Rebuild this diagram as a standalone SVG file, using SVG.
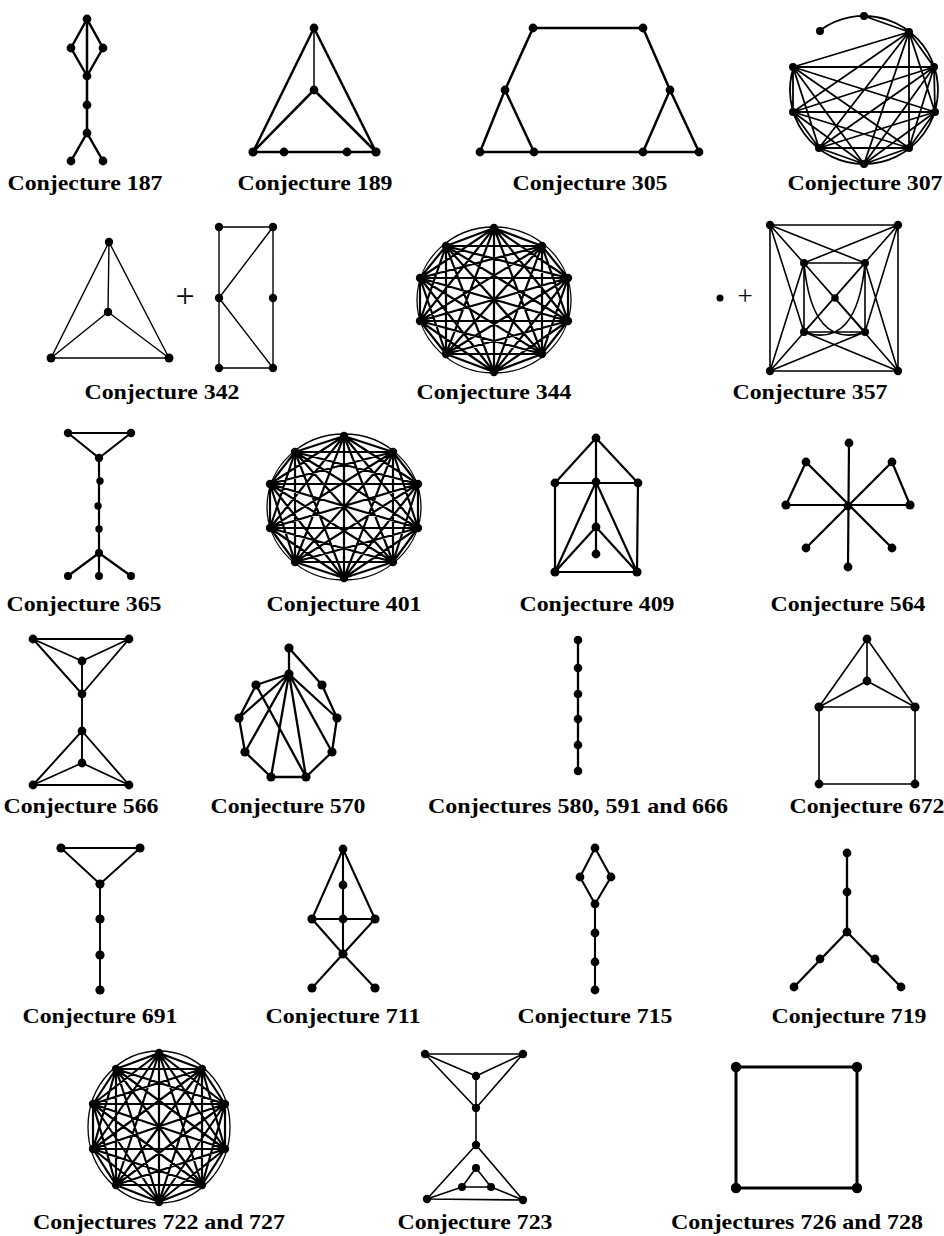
<svg xmlns="http://www.w3.org/2000/svg" width="944" height="1236" viewBox="0 0 944 1236">
<style>
.e{fill:none;stroke:#000;stroke-linecap:round;stroke-linejoin:round}
.o{fill:none;stroke:#000;stroke-width:1.3}
.n circle{fill:#000}
.lbl{font-family:"Liberation Serif","Times New Roman",serif;font-weight:bold;font-size:22px;text-anchor:middle;fill:#000}
.plus{font-family:"Liberation Serif","Times New Roman",serif;text-anchor:middle;fill:#000}
</style>
<rect width="944" height="1236" fill="#fff"/>

<g id="connectors">
<!-- 187 -->
<path class="e" stroke-width="2.5" d="M87,19 L71,48 L87,76 L103,48 Z M87,19 L87,133 L71,161 M87,133 L103,161"/>
<!-- 189 -->
<path class="e" stroke-width="2.5" d="M253,152 L314,28 L376,152 Z M253,152 L314,90 L376,152"/>
<path class="e" stroke-width="1.5" d="M314,28 L314,90"/>
<!-- 305 -->
<path class="e" stroke-width="2.5" d="M480,152 L505,90 L533,28 L643,28 L670,90 L699,152 Z M505,90 L534,152 M670,90 L643,152"/>
<!-- 307 -->
<path class="e" stroke-width="1.8" d="M820.5,30.1 A74,74 0 1 1 793.6,67.1 M864,16 L909,32
M909,32 L934,67 L935,112 L909,148 L864,164 L819,148 L793,112 L793,67 Z
M909,32 L935,112 L864,164 L793,112 Z M934,67 L909,148 L819,148 L793,67 Z
M909,32 L909,148 L793,112 L934,67 L864,164 L793,67 L935,112 L819,148 Z
M909,32 L864,164 M934,67 L819,148 M935,112 L793,112 M909,148 L793,67"/>
<!-- 342 -->
<path class="e" stroke-width="1.4" d="M51,358 L109,242 L169,358 Z M109,242 L108,312 M51,358 L108,312 L169,358"/>
<path class="e" stroke-width="1.4" d="M219,227 L273,227 L273,368 L219,368 Z M273,227 L219,298 L273,368"/>
<!-- 344 -->
<ellipse class="o" cx="494" cy="300" rx="77" ry="73"/>
<path class="e" stroke-width="2.2" d="M494,228 L542,246 L568,278 L568,321 L542,354 L494,372 L446,354 L420,321 L420,278 L446,246 Z
M494,228 L568,278 L542,354 L446,354 L420,278 Z M542,246 L568,321 L494,372 L420,321 L446,246 Z
M494,228 L568,321 L446,354 L446,246 L568,278 L494,372 L420,278 L542,246 L542,354 L420,321 Z
M494,228 L542,354 L420,278 L568,278 L446,354 Z M542,246 L494,372 L446,246 L568,321 L420,321 Z
M494,228 L494,372 M542,246 L446,354 M568,278 L420,321 M568,321 L420,278 M542,354 L446,246"/>
<!-- 357 -->
<path class="e" stroke-width="1.6" d="M770,225 L898,225 L898,371 L770,371 Z M804,263 L865,263 L865,332 L804,332 Z
M770,225 L865,332 M898,225 L804,332 M898,371 L804,263 M770,371 L865,263
M770,225 L865,263 M770,225 L804,332 M898,225 L804,263 M898,225 L865,332
M770,371 L804,263 M770,371 L865,332 M898,371 L865,263 M898,371 L804,332
M804,263 Q812,350 865,332 M865,263 Q857,350 804,332"/>
<!-- 365 -->
<path class="e" stroke-width="2.2" d="M68,433 L131,433 L99,458 Z M99,458 L99,576 M68,576 L99,553 L131,576"/>
<!-- 401 -->
<ellipse class="o" cx="344" cy="507" rx="77" ry="73"/>
<path class="e" stroke-width="2.2" d="M344,436 L393,452 L418,484 L418,528 L393,562 L344,578 L295,562 L270,528 L270,484 L295,452 Z
M344,436 L418,484 L393,562 L295,562 L270,484 Z M393,452 L418,528 L344,578 L270,528 L295,452 Z
M344,436 L418,528 L295,562 L295,452 L418,484 L344,578 L270,484 L393,452 L393,562 L270,528 Z
M344,436 L393,562 L270,484 L418,484 L295,562 Z M393,452 L344,578 L295,452 L418,528 L270,528 Z
M344,436 L344,578 M393,452 L295,562 M418,484 L270,528 M418,528 L270,484 M393,562 L295,452"/>
<!-- 409 -->
<path class="e" stroke-width="2.2" d="M555,483 L596,438 L638,483 M596,438 L596,554 M555,483 L638,483 L637,572 L555,572 Z M555,572 L596,482 L637,572 M555,572 L596,527 L637,572"/>
<!-- 564 -->
<path class="e" stroke-width="2.2" d="M849,443 L848,567 M806,462 L892,548 M892,462 L806,548 M786,505 L910,505 M806,462 L786,505 M892,462 L910,505"/>
<!-- 566 -->
<path class="e" stroke-width="1.9" d="M33,639 L129,639 L82,694 Z M33,639 L82,661 L129,639 M82,661 L82,763 M33,785 L82,731 L129,785 Z M33,785 L82,763 L129,785"/>
<!-- 570 -->
<path class="e" stroke-width="2.3" d="M289,648 L289,674 L256,685 L239,718 L245,752 L271,777 L306,777 L332,752 L337,718 L322,685 Z
M289,674 L239,718 M289,674 L245,752 M289,674 L271,777 M289,674 L306,777 M289,674 L332,752 M289,674 L337,718 M256,685 L306,777"/>
<!-- 580 -->
<path class="e" stroke-width="2.3" d="M578,640 L578,771"/>
<!-- 672 -->
<path class="e" stroke-width="1.6" d="M819,707 L867,639 L915,707 Z M867,639 L867,681 M819,707 L867,681 L915,707 M819,707 L819,784 L915,784 L915,707"/>
<!-- 691 -->
<path class="e" stroke-width="1.9" d="M61,848 L140,848 L100,884 Z M100,884 L100,990"/>
<!-- 711 -->
<path class="e" stroke-width="2.1" d="M312,919 L343,849 L375,919 M343,849 L343,954 M312,919 L375,919 M312,919 L343,954 L375,919 M312,988 L343,954 L375,988"/>
<!-- 715 -->
<path class="e" stroke-width="2.1" d="M595,848 L580,877 L595,904 L611,877 Z M595,904 L595,990"/>
<!-- 719 -->
<path class="e" stroke-width="2.3" d="M847,853 L847,932 M794,987 L847,932 L901,987"/>
<!-- 722 -->
<ellipse class="o" cx="159" cy="1127" rx="71" ry="76"/>
<path class="e" stroke-width="2.2" d="M159,1053 L202,1069 L225,1104 L225,1149 L202,1185 L159,1202 L116,1185 L93,1149 L93,1104 L116,1069 Z
M159,1053 L225,1104 L202,1185 L116,1185 L93,1104 Z M202,1069 L225,1149 L159,1202 L93,1149 L116,1069 Z
M159,1053 L225,1149 L116,1185 L116,1069 L225,1104 L159,1202 L93,1104 L202,1069 L202,1185 L93,1149 Z
M159,1053 L202,1185 L93,1104 L225,1104 L116,1185 Z M202,1069 L159,1202 L116,1069 L225,1149 L93,1149 Z
M159,1053 L159,1202 M202,1069 L116,1185 M225,1104 L93,1149 M225,1149 L93,1104 M202,1185 L116,1069"/>
<!-- 723 -->
<path class="e" stroke-width="1.6" d="M425,1054 L523,1054 L476,1108 Z M425,1054 L476,1076 L523,1054 M476,1076 L476,1145 M427,1199 L476,1145 L523,1200 Z M476,1168 L462,1187 L491,1187 Z M427,1199 L462,1187 M491,1187 L523,1200"/>
<!-- 726 -->
<path class="e" stroke-width="3" d="M736,1067 L857,1067 L857,1188 L736,1188 Z"/>
</g>

<g id="g187" class="n"><circle cx="87" cy="19" r="4.4"/><circle cx="71" cy="48" r="4.4"/><circle cx="103" cy="48" r="4.4"/><circle cx="87" cy="76" r="4.4"/><circle cx="87" cy="105" r="4.4"/><circle cx="87" cy="133" r="4.4"/><circle cx="71" cy="161" r="4.4"/><circle cx="103" cy="161" r="4.4"/></g>
<g id="g189" class="n"><circle cx="314" cy="28" r="4.4"/><circle cx="314" cy="90" r="4.4"/><circle cx="253" cy="152" r="4.6"/><circle cx="284" cy="152" r="4.4"/><circle cx="347" cy="152" r="4.4"/><circle cx="376" cy="152" r="4.6"/></g>
<g id="g305" class="n"><circle cx="533" cy="28" r="4.4"/><circle cx="643" cy="28" r="4.4"/><circle cx="505" cy="90" r="4.4"/><circle cx="670" cy="90" r="4.4"/><circle cx="480" cy="152" r="4.4"/><circle cx="534" cy="152" r="4.4"/><circle cx="643" cy="152" r="4.4"/><circle cx="699" cy="152" r="4.4"/></g>
<g id="g307" class="n"><circle cx="820" cy="31" r="4"/><circle cx="864" cy="16" r="4"/><circle cx="909" cy="32" r="4"/><circle cx="934" cy="67" r="4"/><circle cx="935" cy="112" r="4"/><circle cx="909" cy="148" r="4"/><circle cx="864" cy="164" r="4"/><circle cx="819" cy="148" r="4"/><circle cx="793" cy="112" r="4"/><circle cx="793" cy="67" r="4"/></g>
<g id="g342" class="n"><circle cx="109" cy="242" r="4.2"/><circle cx="108" cy="312" r="4.2"/><circle cx="51" cy="358" r="4.5"/><circle cx="169" cy="358" r="4.5"/><circle cx="219" cy="227" r="4.2"/><circle cx="273" cy="227" r="4.2"/><circle cx="219" cy="298" r="4.2"/><circle cx="273" cy="298" r="4.2"/><circle cx="219" cy="368" r="4.2"/><circle cx="273" cy="368" r="4.2"/></g>
<g id="g344" class="n"><circle cx="494" cy="228" r="4.2"/><circle cx="542" cy="246" r="4.2"/><circle cx="568" cy="278" r="4.2"/><circle cx="568" cy="321" r="4.2"/><circle cx="542" cy="354" r="4.2"/><circle cx="494" cy="372" r="4.2"/><circle cx="446" cy="354" r="4.2"/><circle cx="420" cy="321" r="4.2"/><circle cx="420" cy="278" r="4.2"/><circle cx="446" cy="246" r="4.2"/></g>
<g id="g357" class="n"><circle cx="720" cy="298" r="3.5"/><circle cx="770" cy="225" r="4.2"/><circle cx="898" cy="225" r="4.2"/><circle cx="770" cy="371" r="4.2"/><circle cx="898" cy="371" r="4.2"/><circle cx="804" cy="263" r="4"/><circle cx="865" cy="263" r="4"/><circle cx="804" cy="332" r="4"/><circle cx="865" cy="332" r="4"/><circle cx="835" cy="298" r="3.8"/></g>
<g id="g365" class="n"><circle cx="68" cy="433" r="4.2"/><circle cx="131" cy="433" r="4.2"/><circle cx="99" cy="458" r="4.2"/><circle cx="100" cy="481" r="3.7"/><circle cx="98" cy="506" r="3.7"/><circle cx="99" cy="529" r="3.7"/><circle cx="99" cy="553" r="4"/><circle cx="68" cy="576" r="4"/><circle cx="99" cy="576" r="4"/><circle cx="131" cy="576" r="4"/></g>
<g id="g401" class="n"><circle cx="344" cy="436" r="4.2"/><circle cx="393" cy="452" r="4.2"/><circle cx="418" cy="484" r="4.2"/><circle cx="418" cy="528" r="4.2"/><circle cx="393" cy="562" r="4.2"/><circle cx="344" cy="578" r="4.2"/><circle cx="295" cy="562" r="4.2"/><circle cx="270" cy="528" r="4.2"/><circle cx="270" cy="484" r="4.2"/><circle cx="295" cy="452" r="4.2"/></g>
<g id="g409" class="n"><circle cx="596" cy="438" r="4.4"/><circle cx="555" cy="483" r="4.4"/><circle cx="596" cy="482" r="4.4"/><circle cx="638" cy="483" r="4.4"/><circle cx="596" cy="527" r="4.4"/><circle cx="596" cy="554" r="4.4"/><circle cx="555" cy="572" r="4.6"/><circle cx="637" cy="572" r="4.6"/></g>
<g id="g564" class="n"><circle cx="848" cy="506" r="4.4"/><circle cx="849" cy="443" r="4.4"/><circle cx="806" cy="462" r="4.4"/><circle cx="892" cy="462" r="4.4"/><circle cx="786" cy="505" r="4.6"/><circle cx="910" cy="505" r="4.6"/><circle cx="806" cy="548" r="4.4"/><circle cx="892" cy="548" r="4.4"/><circle cx="848" cy="567" r="4.4"/></g>
<g id="g566" class="n"><circle cx="33" cy="639" r="4.4"/><circle cx="129" cy="639" r="4.4"/><circle cx="82" cy="661" r="4.4"/><circle cx="82" cy="694" r="4.4"/><circle cx="82" cy="731" r="4.4"/><circle cx="82" cy="763" r="4.4"/><circle cx="33" cy="785" r="4.4"/><circle cx="129" cy="785" r="4.4"/></g>
<g id="g570" class="n"><circle cx="289" cy="648" r="4.6"/><circle cx="289" cy="674" r="4.6"/><circle cx="256" cy="685" r="4.6"/><circle cx="239" cy="718" r="4.6"/><circle cx="245" cy="752" r="4.6"/><circle cx="271" cy="777" r="4.6"/><circle cx="306" cy="777" r="4.6"/><circle cx="332" cy="752" r="4.6"/><circle cx="337" cy="718" r="4.6"/><circle cx="322" cy="685" r="4.6"/></g>
<g id="g580" class="n"><circle cx="578" cy="640" r="4.3"/><circle cx="578" cy="668" r="4.3"/><circle cx="578" cy="694" r="4.3"/><circle cx="578" cy="719" r="4.3"/><circle cx="578" cy="745" r="4.3"/><circle cx="578" cy="771" r="4.3"/></g>
<g id="g672" class="n"><circle cx="867" cy="639" r="4.4"/><circle cx="867" cy="681" r="4.4"/><circle cx="819" cy="707" r="4.6"/><circle cx="915" cy="707" r="4.6"/><circle cx="819" cy="784" r="4.4"/><circle cx="915" cy="784" r="4.4"/></g>
<g id="g691" class="n"><circle cx="61" cy="848" r="4.6"/><circle cx="140" cy="848" r="4.6"/><circle cx="100" cy="884" r="4.6"/><circle cx="100" cy="919" r="4.6"/><circle cx="100" cy="955" r="4.6"/><circle cx="100" cy="990" r="4.6"/></g>
<g id="g711" class="n"><circle cx="343" cy="849" r="4.4"/><circle cx="343" cy="885" r="4.4"/><circle cx="312" cy="919" r="4.6"/><circle cx="343" cy="919" r="4.4"/><circle cx="375" cy="919" r="4.6"/><circle cx="343" cy="954" r="4.6"/><circle cx="312" cy="988" r="4.6"/><circle cx="375" cy="988" r="4.6"/></g>
<g id="g715" class="n"><circle cx="595" cy="848" r="4.4"/><circle cx="580" cy="877" r="4.4"/><circle cx="611" cy="877" r="4.4"/><circle cx="595" cy="904" r="4.4"/><circle cx="595" cy="933" r="4.4"/><circle cx="595" cy="962" r="4.4"/><circle cx="595" cy="990" r="4.4"/></g>
<g id="g719" class="n"><circle cx="847" cy="853" r="4.4"/><circle cx="847" cy="892" r="4.4"/><circle cx="847" cy="932" r="4.4"/><circle cx="820" cy="959" r="4.4"/><circle cx="794" cy="987" r="4.4"/><circle cx="875" cy="959" r="4.4"/><circle cx="901" cy="987" r="4.4"/></g>
<g id="g722" class="n"><circle cx="159" cy="1053" r="4.2"/><circle cx="202" cy="1069" r="4.2"/><circle cx="225" cy="1104" r="4.2"/><circle cx="225" cy="1149" r="4.2"/><circle cx="202" cy="1185" r="4.2"/><circle cx="159" cy="1202" r="4.2"/><circle cx="116" cy="1185" r="4.2"/><circle cx="93" cy="1149" r="4.2"/><circle cx="93" cy="1104" r="4.2"/><circle cx="116" cy="1069" r="4.2"/></g>
<g id="g723" class="n"><circle cx="425" cy="1054" r="4.2"/><circle cx="523" cy="1054" r="4.2"/><circle cx="476" cy="1076" r="4.2"/><circle cx="476" cy="1108" r="4.2"/><circle cx="476" cy="1145" r="4.2"/><circle cx="476" cy="1168" r="4"/><circle cx="462" cy="1187" r="4"/><circle cx="491" cy="1187" r="4"/><circle cx="427" cy="1199" r="4.2"/><circle cx="523" cy="1200" r="4.2"/></g>
<g id="g726" class="n"><circle cx="736" cy="1067" r="5.2"/><circle cx="857" cy="1067" r="5.2"/><circle cx="736" cy="1188" r="5.2"/><circle cx="857" cy="1188" r="5.2"/></g>

<g id="symbols">
<text class="plus" x="185" y="307" font-size="34">+</text>
<text class="plus" x="745" y="305" font-size="27">+</text>
</g>

<g id="labels">
<text class="lbl" x="85" y="190" textLength="155" lengthAdjust="spacingAndGlyphs">Conjecture 187</text>
<text class="lbl" x="315" y="190" textLength="155" lengthAdjust="spacingAndGlyphs">Conjecture 189</text>
<text class="lbl" x="590" y="190" textLength="155" lengthAdjust="spacingAndGlyphs">Conjecture 305</text>
<text class="lbl" x="865" y="190" textLength="155" lengthAdjust="spacingAndGlyphs">Conjecture 307</text>
<text class="lbl" x="162" y="399" textLength="155" lengthAdjust="spacingAndGlyphs">Conjecture 342</text>
<text class="lbl" x="494" y="399" textLength="155" lengthAdjust="spacingAndGlyphs">Conjecture 344</text>
<text class="lbl" x="810" y="399" textLength="155" lengthAdjust="spacingAndGlyphs">Conjecture 357</text>
<text class="lbl" x="84" y="611" textLength="155" lengthAdjust="spacingAndGlyphs">Conjecture 365</text>
<text class="lbl" x="344" y="611" textLength="155" lengthAdjust="spacingAndGlyphs">Conjecture 401</text>
<text class="lbl" x="597" y="611" textLength="155" lengthAdjust="spacingAndGlyphs">Conjecture 409</text>
<text class="lbl" x="848" y="611" textLength="155" lengthAdjust="spacingAndGlyphs">Conjecture 564</text>
<text class="lbl" x="81" y="813" textLength="155" lengthAdjust="spacingAndGlyphs">Conjecture 566</text>
<text class="lbl" x="288" y="813" textLength="155" lengthAdjust="spacingAndGlyphs">Conjecture 570</text>
<text class="lbl" x="578" y="813" textLength="300" lengthAdjust="spacingAndGlyphs">Conjectures 580, 591 and 666</text>
<text class="lbl" x="867" y="813" textLength="155" lengthAdjust="spacingAndGlyphs">Conjecture 672</text>
<text class="lbl" x="100" y="1023" textLength="155" lengthAdjust="spacingAndGlyphs">Conjecture 691</text>
<text class="lbl" x="343" y="1023" textLength="155" lengthAdjust="spacingAndGlyphs">Conjecture 711</text>
<text class="lbl" x="595" y="1023" textLength="155" lengthAdjust="spacingAndGlyphs">Conjecture 715</text>
<text class="lbl" x="849" y="1023" textLength="155" lengthAdjust="spacingAndGlyphs">Conjecture 719</text>
<text class="lbl" x="159" y="1229" textLength="252" lengthAdjust="spacingAndGlyphs">Conjectures 722 and 727</text>
<text class="lbl" x="475" y="1229" textLength="155" lengthAdjust="spacingAndGlyphs">Conjecture 723</text>
<text class="lbl" x="797" y="1229" textLength="252" lengthAdjust="spacingAndGlyphs">Conjectures 726 and 728</text>
</g>
</svg>
